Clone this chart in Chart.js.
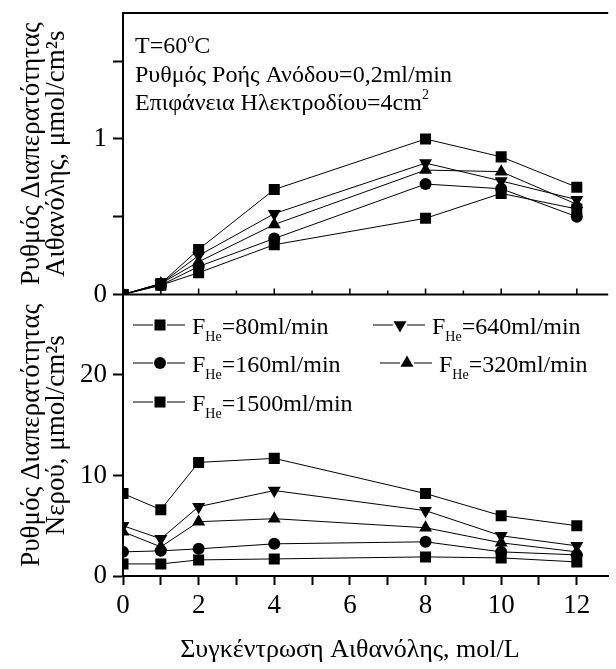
<!DOCTYPE html>
<html>
<head>
<meta charset="utf-8">
<script src="https://cdn.jsdelivr.net/npm/chart.js@4.4.0/dist/chart.umd.min.js"></script>
<style>
  html, body { margin: 0; padding: 0; background: #fff; }
  #wrap { position: relative; width: 616px; height: 669px; }
</style>
</head>
<body>
<div id="wrap"><canvas id="chart" width="616" height="669"></canvas></div>
<script>
// ethanol / water permeation vs ethanol concentration, two stacked panels
const SERIF = '"Liberation Serif", "Times New Roman", serif';

const concentrations = [0, 1, 2, 4, 8, 10, 12];
const heliumFlows = ['80', '160', '320', '640', '1500'];
const xTicks = [0, 2, 4, 6, 8, 10, 12];

// top panel: ethanol permeation rate, umol/cm2s
const ethanol80 = [0, 0.06, 0.14, 0.32, 0.49, 0.65, 0.55];
const ethanol160 = [0, 0.06, 0.18, 0.36, 0.71, 0.68, 0.50];
const ethanol320 = [0, 0.07, 0.21, 0.45, 0.80, 0.79, 0.58];
const ethanol640 = [0, 0.07, 0.25, 0.52, 0.845, 0.73, 0.61];
const ethanol1500 = [0, 0.07, 0.29, 0.675, 1.0, 0.885, 0.69];

// bottom panel: water permeation rate, umol/cm2s
const water80 = [1.2, 1.2, 1.6, 1.7, 1.9, 1.8, 1.4];
const water160 = [2.4, 2.5, 2.7, 3.2, 3.4, 2.4, 2.1];
const water320 = [4.4, 2.9, 5.4, 5.7, 4.8, 3.3, 2.4];
const water640 = [5.0, 3.7, 6.9, 8.5, 6.5, 4.0, 3.0];
const water1500 = [8.2, 6.6, 11.3, 11.7, 8.2, 6.0, 5.0];

const ethanolSeries = [ethanol80, ethanol160, ethanol320, ethanol640, ethanol1500];
const waterSeries = [water80, water160, water320, water640, water1500];

const markerFor = {
  '80': { pointStyle: 'rect', radius: 7.8, rotation: 0 },
  '160': { pointStyle: 'circle', radius: 6, rotation: 0 },
  '320': { pointStyle: 'triangle', radius: 7.5, rotation: 0 },
  '640': { pointStyle: 'triangle', radius: 7.5, rotation: 180 },
  '1500': { pointStyle: 'rect', radius: 7.8, rotation: 0 }
};

function makeDataset(flow, values, axis) {
  const m = markerFor[flow];
  return {
    label: 'F_He=' + flow + 'ml/min',
    data: concentrations.map((c, i) => ({ x: c, y: values[i] })),
    yAxisID: axis,
    borderColor: '#000',
    borderWidth: 1,
    backgroundColor: '#000',
    pointBackgroundColor: '#000',
    pointBorderColor: '#000',
    pointBorderWidth: 0,
    pointStyle: m.pointStyle,
    pointRadius: m.radius,
    pointRotation: m.rotation,
    tension: 0
  };
}

const datasets = [
  ...heliumFlows.map((f, i) => makeDataset(f, ethanolSeries[i], 'yTop')),
  ...heliumFlows.map((f, i) => makeDataset(f, waterSeries[i], 'yBot'))
];

// small rich-text helper: pieces of [text, size, dy]
function drawRich(ctx, x, y, pieces) {
  ctx.textAlign = 'left';
  ctx.textBaseline = 'alphabetic';
  for (const [t, size, dy] of pieces) {
    ctx.font = size + 'px ' + SERIF;
    ctx.fillText(t, x, y + dy);
    x += ctx.measureText(t).width;
  }
}

const decorations = {
  id: 'decorations',
  afterDraw(chart) {
    const { ctx, chartArea, scales } = chart;
    const xs = scales.x, top = scales.yTop;
    ctx.save();
    ctx.strokeStyle = '#000';
    ctx.fillStyle = '#000';

    // frame top edge + separator between panels
    ctx.lineWidth = 2;
    ctx.beginPath();
    ctx.moveTo(chartArea.left, chartArea.top);
    ctx.lineTo(chartArea.right, chartArea.top);
    ctx.moveTo(chartArea.left, top.bottom);
    ctx.lineTo(chartArea.right, top.bottom);
    ctx.stroke();
    ctx.lineWidth = 1.5;
    ctx.beginPath();
    for (let v = 1; v <= 12; v++) {
      const px = xs.getPixelForValue(v);
      ctx.moveTo(px, top.bottom);
      ctx.lineTo(px, top.bottom - (v % 2 === 0 ? 6 : 4));
    }
    ctx.stroke();

    // conditions text in top panel
    drawRich(ctx, 135, 53, [['T=60', 24, 0], ['o', 14, -10], ['C', 24, 0]]);
    drawRich(ctx, 135, 82, [['Ρυθμός Ροής Ανόδου=0,2ml/min', 24, 0]]);
    drawRich(ctx, 135, 110, [['Επιφάνεια Ηλεκτροδίου=4cm', 24, 0], ['2', 14, -11]]);

    // legend
    const slots = [[133, 325], [133, 363], [380, 363], [373, 325], [133, 402]];
    heliumFlows.forEach((flow, i) => {
      const [x0, yc] = slots[i];
      const m = markerFor[flow];
      ctx.lineWidth = 1;
      ctx.beginPath();
      ctx.moveTo(x0, yc); ctx.lineTo(x0 + 20, yc);
      ctx.moveTo(x0 + 34, yc); ctx.lineTo(x0 + 52, yc);
      ctx.stroke();
      Chart.helpers.drawPoint(ctx, { pointStyle: m.pointStyle, radius: m.radius, rotation: m.rotation, borderWidth: 0 }, x0 + 27, yc);
      drawRich(ctx, x0 + 59, yc + 9, [['F', 24, 0], ['He', 14, 7], ['=' + flow + 'ml/min', 24, 0]]);
    });

    // x axis title, centred on the 0..12 range
    ctx.font = '26px ' + SERIF;
    ctx.textAlign = 'center';
    ctx.textBaseline = 'alphabetic';
    ctx.fillText('Συγκέντρωση Αιθανόλης, mol/L', xs.getPixelForValue(6), 657);
    ctx.restore();
  }
};

function fixWidth(w) {
  return s => { s.width = w; s.paddingTop = 0; s.paddingBottom = 0; };
}

const yCommon = {
  position: 'left',
  stack: 'panels',
  stackWeight: 1,
  min: 0,
  grid: { drawOnChartArea: false, tickLength: 10, tickColor: '#000', tickWidth: 2 },
  border: { color: '#000', width: 2 },
  afterFit: fixWidth(123)
};

const yTitleFont = { family: SERIF, size: 27, lineHeight: 0.93 };

new Chart(document.getElementById('chart'), {
  type: 'line',
  data: { datasets },
  options: {
    responsive: false,
    animation: false,
    layout: { padding: { top: 13, right: 0, bottom: 0, left: 0 } },
    plugins: { legend: { display: false }, tooltip: { enabled: false } },
    scales: {
      // left boxes are laid out in reverse, so the lower panel is listed first
      yBot: {
        ...yCommon,
        max: 28,
        ticks: {
          stepSize: 5, includeBounds: false, color: '#000', padding: 6,
          font: { family: SERIF, size: 27 },
          callback: v => v % 10 === 0 ? v : ''
        },
        title: {
          display: true, color: '#000',
          text: ['Ρυθμός Διαπερατότητας', 'Νερού, μmol/cm²s'],
          font: yTitleFont,
          padding: { top: 19, bottom: 0 }
        }
      },
      yTop: {
        ...yCommon,
        max: 1.81,
        ticks: {
          stepSize: 0.5, includeBounds: false, color: '#000', padding: 6,
          font: { family: SERIF, size: 27 },
          callback: v => Number.isInteger(v) ? v : ''
        },
        title: {
          display: true, color: '#000',
          text: ['Ρυθμός Διαπερατότητας', 'Αιθανόλης, μmol/cm²s'],
          font: yTitleFont,
          padding: { top: 19, bottom: 0 }
        }
      },
      x: {
        type: 'linear',
        min: 0,
        max: 12.83,
        ticks: {
          stepSize: 1, includeBounds: false, autoSkip: false, maxRotation: 0,
          color: '#000', padding: 5,
          font: { family: SERIF, size: 27 },
          callback: v => xTicks.includes(v) ? v : ''
        },
        grid: { drawOnChartArea: false, tickLength: 9, tickColor: '#000', tickWidth: 2 },
        border: { color: '#000', width: 2 },
        afterFit: s => { s.height = 93; s.paddingLeft = 0; s.paddingRight = 0; }
      }
    }
  },
  plugins: [decorations]
});
</script>
</body>
</html>
